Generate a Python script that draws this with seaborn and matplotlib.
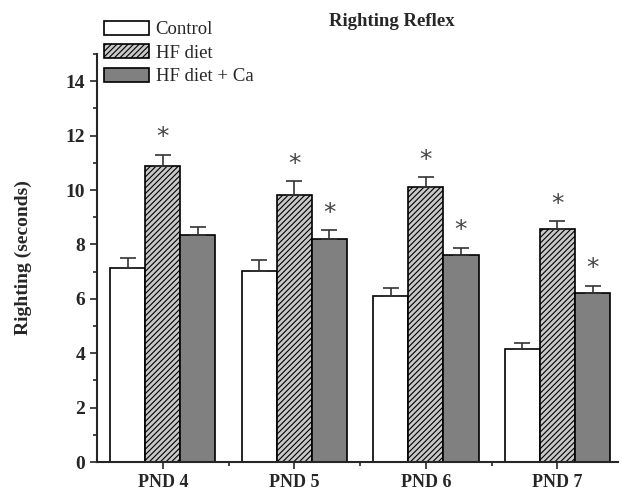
import numpy as np
import pandas as pd
import matplotlib
matplotlib.use('Agg')
import matplotlib.pyplot as plt
from matplotlib.patches import Patch
from matplotlib.ticker import MultipleLocator, FixedLocator
import seaborn as sns

# data
days = ['PND 4', 'PND 5', 'PND 6', 'PND 7']
groups = ['Control', 'HF diet', 'HF diet + Ca']
control = [7.13, 7.01, 6.11, 4.14]
control_err = [0.37, 0.42, 0.30, 0.25]
hf_diet = [10.89, 9.83, 10.10, 8.56]
hf_diet_err = [0.40, 0.50, 0.37, 0.29]
hf_ca = [8.35, 8.20, 7.62, 6.22]
hf_ca_err = [0.29, 0.32, 0.26, 0.26]
# significance marks (* over the bar)
hf_sig = [True, True, True, True]
ca_sig = [False, True, True, True]

df = pd.DataFrame({
    'day': days * 3,
    'group': [g for g in groups for _ in days],
    'value': control + hf_diet + hf_ca,
    'err': control_err + hf_diet_err + hf_ca_err,
    'sig': [False] * 4 + hf_sig + ca_sig,
})

sns.set_style('ticks')
plt.rcParams['font.family'] = ['Liberation Serif', 'DejaVu Serif']
plt.rcParams['hatch.linewidth'] = 0.8

fig = plt.figure(figsize=(6.22, 4.9), dpi=100)
ax = fig.add_axes([97 / 622, 28 / 490, (618 - 97) / 622, (462 - 54) / 490])

colors = {'Control': 'white', 'HF diet': '#c8c8c8', 'HF diet + Ca': '#808080'}
sns.barplot(data=df, x='day', y='value', hue='group', order=days, hue_order=groups,
            palette=colors, errorbar=None, width=0.8, edgecolor='black', linewidth=1.2,
            saturation=1, legend=False, ax=ax)

# bars come out grouped by hue, in hue_order
for i, bar in enumerate(ax.patches[:len(df)]):
    g = groups[i // len(days)]
    row = df[(df['group'] == g) & (df['day'] == days[i % len(days)])].iloc[0]
    if g == 'HF diet':
        bar.set_hatch('//////')
    cx = bar.get_x() + bar.get_width() / 2
    h = bar.get_height()
    ax.errorbar(cx, h, yerr=[[0], [row['err']]], color='#333333', capsize=6,
                elinewidth=1.2, capthick=1.2, zorder=1)
    if row['sig']:
        ax.text(cx, h + row['err'] + 0.2, '*', ha='center', va='bottom',
                fontsize=18, color='#444444', family='DejaVu Sans')

ax.set_ylim(0, 15)
ax.set_xlim(-0.5, 3.46)
ax.yaxis.set_major_locator(MultipleLocator(2))
ax.yaxis.set_minor_locator(MultipleLocator(1))
ax.xaxis.set_minor_locator(FixedLocator([0.5, 1.5, 2.5]))
ax.tick_params(which='major', length=5, width=1.2, labelsize=14)
ax.tick_params(axis='x', which='major', labelsize=13)
ax.tick_params(which='minor', length=3, width=1.2)
for lab in ax.get_xticklabels() + ax.get_yticklabels():
    lab.set_fontweight('bold')
ax.set_xlabel('')
ax.set_ylabel('Righting (seconds)', fontsize=14, fontweight='bold', labelpad=24)
for s in ['top', 'right']:
    ax.spines[s].set_visible(False)
for s in ['left', 'bottom']:
    ax.spines[s].set_linewidth(1.5)

fig.text(392 / 622, 1 - 21 / 490, 'Righting Reflex', ha='center', va='center',
         fontsize=13.5, fontweight='bold')

handles = [Patch(facecolor=colors[g], edgecolor='black', linewidth=1.2,
                 hatch='//////' if g == 'HF diet' else None) for g in groups]
fig.legend(handles, groups, loc='upper left', bbox_to_anchor=(104 / 622, 1 - 21 / 490),
           frameon=False, fontsize=13.5, handlelength=2.4, handleheight=0.75,
           handletextpad=0.35, labelspacing=0.32, borderpad=0, borderaxespad=0)

plt.savefig('out.png', dpi=100)
plt.close()
